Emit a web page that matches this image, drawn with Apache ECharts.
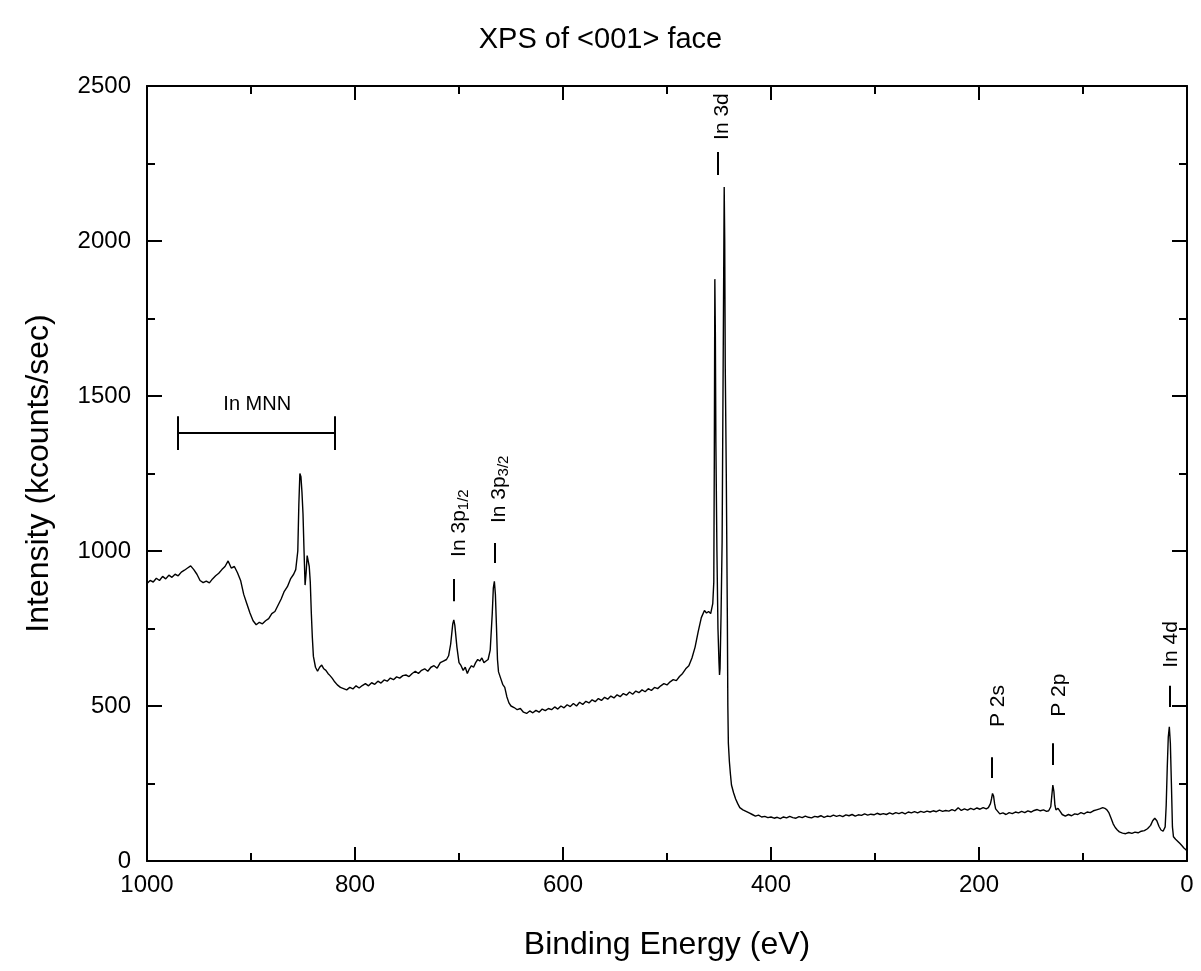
<!DOCTYPE html>
<html>
<head>
<meta charset="utf-8">
<script src="https://cdn.jsdelivr.net/npm/echarts@6/dist/echarts.min.js"></script>
<style>
html,body{margin:0;padding:0;background:#fff;}
#chart{width:1201px;height:971px;}
</style>
</head>
<body>
<div id="chart"></div>
<script>
// ---------- data ----------
const titleText = 'XPS of <001> face';
const xName = 'Binding Energy (eV)';
const yName = 'Intensity (kcounts/sec)';

const energy = [
1000,997,994,991,988,985,982,979,976,973,970,967,964,961,958,955,952,949,946,943,940,937,934,931,928,925,922,919,916,913,910,907,904,901,898,895,892,889,886,883,880,877,874,871,868,865,862,859,857,855,854,853,852,851,850,849,848,847,846,845,844,843,842,841,840,838,836,834,832,830,828,826,824,822,820,817,814,811,808,805,802,799,796,793,790,787,784,781,778,775,772,769,766,763,760,757,754,751,748,745,742,739,736,733,730,727,724,721,718,715,712,710,708,706,705,704,702,700,698,696,694,692,690,688,686,684,682,680,678,676,674,672,670,668,667,666,665,664,663,662,660,658,656,654,652,650,647,644,641,638,635,632,629,626,623,620,617,614,611,608,605,602,599,596,593,590,587,584,581,578,575,572,569,566,563,560,557,554,551,548,545,542,539,536,533,530,527,524,521,518,515,512,509,506,503,500,497,494,491,488,485,482,479,476,473,470,467,464,462,460,458,456,455,454.5,454,453.5,453,452,451,450,449.5,449,448,447,446,445,444.5,444,443,442,441.5,441,440,439,438,436,434,432,430,427,424,421,418,415,412,409,406,403,400,397,394,391,388,385,382,379,376,373,370,367,364,361,358,355,352,349,346,343,340,337,334,331,328,325,322,319,316,313,310,307,304,301,298,295,292,289,286,283,280,277,274,271,268,265,262,259,256,253,250,247,244,241,238,235,232,229,226,223,220,217,214,211,208,205,202,199,196,193,191,189,188,187,186,185,184,182,180,177,174,171,168,165,162,159,156,153,150,147,144,141,138,135,133,131,130,129,128,127,126,124,122,120,117,114,111,108,105,102,99,96,93,90,87,84,81,79,77,75,73,71,69,67,65,62,59,56,53,50,47,44,41,38,35,33,31,29,27,25,23,21,20,19,18,17,16,15,14,13,11,9,7,5,3,1,0
];
const intensity = [
895,905,900,912,905,918,910,922,915,925,920,932,938,945,952,940,925,905,898,903,897,910,920,928,940,950,968,945,950,930,905,860,830,800,775,762,770,765,775,782,798,805,825,845,870,885,910,925,940,1000,1150,1250,1240,1190,1120,1000,890,930,985,990,950,900,800,720,660,625,612,625,632,620,615,605,598,590,580,568,560,556,552,560,555,565,558,566,572,565,575,570,580,574,584,580,590,585,594,590,598,600,595,605,612,605,615,620,612,625,630,622,640,645,650,662,700,765,778,760,690,640,630,615,625,605,620,630,625,640,650,645,655,640,645,650,680,800,880,902,860,760,650,610,590,570,560,530,510,500,495,488,492,480,476,484,478,486,480,490,485,492,488,497,490,500,494,504,498,508,500,512,505,515,510,520,514,524,518,528,522,532,526,536,530,540,535,545,538,548,543,552,546,556,550,560,556,565,572,568,578,585,582,595,605,620,630,655,690,740,785,808,800,805,798,830,900,1300,1877,1700,1350,1000,750,640,600,620,800,1030,1600,2174,2000,1600,1250,800,500,380,320,280,245,220,200,185,172,165,160,155,150,145,148,142,144,140,142,138,141,137,142,139,144,140,138,143,140,145,141,139,144,142,146,141,145,143,148,144,147,143,149,146,150,145,149,147,152,148,151,149,154,150,153,150,155,151,156,153,157,152,158,155,159,155,160,157,161,158,162,159,164,160,163,161,166,162,172,163,168,164,170,166,171,167,172,168,172,185,200,218,210,185,168,160,152,155,150,156,153,158,155,160,156,162,158,163,166,162,165,160,162,175,210,245,225,180,165,170,160,150,145,150,146,152,150,156,152,158,156,162,165,168,172,170,165,155,138,120,108,100,94,90,88,92,89,93,91,96,98,104,115,130,138,130,112,100,96,110,180,300,400,433,380,250,110,78,70,64,57,50,42,36,32
];

// peak labels: [energy, intensity at text foot, text]
const peakLabelEnergy = [700, 661.5, 447, 182, 123, 15.4];
const peakLabelIntensity = [981, 1090, 2326, 432, 465, 623];
const peakLabelText = ['In 3p{s|1/2}', 'In 3p{s|3/2}', 'In 3d', 'P 2s', 'P 2p', 'In 4d'];
// short marker dashes above peaks: energy, from, to
const dashEnergy = [705, 666, 451, 187.5, 129, 17];
const dashFrom = [838, 961, 2213, 268, 310, 497];
const dashTo = [910, 1026, 2287, 335, 380, 565];
// In MNN range bar
const mnnLabel = 'In MNN';
const mnnRange = [970, 819];
const mnnLevel = 1381;
const mnnCap = [1326, 1435];
const mnnLabelPos = [894, 1474];

const xTicks = {min: 0, max: 1000, interval: 200};
const yTicks = {min: 0, max: 2500, interval: 500};

// ---------- chart ----------
const chart = echarts.init(document.getElementById('chart'), null, {renderer: 'canvas'});
const font = "'Liberation Sans', Arial, Helvetica, sans-serif";

const spectrum = energy.map((e, i) => [e, intensity[i]]);
const dashLines = dashEnergy.map((e, i) => [{coord: [e, dashFrom[i]]}, {coord: [e, dashTo[i]]}]);
const mnnLines = [
  [{coord: [mnnRange[0], mnnLevel]}, {coord: [mnnRange[1], mnnLevel]}],
  [{coord: [mnnRange[0], mnnCap[0]]}, {coord: [mnnRange[0], mnnCap[1]]}],
  [{coord: [mnnRange[1], mnnCap[0]]}, {coord: [mnnRange[1], mnnCap[1]]}]
];

const plain = v => String(v);

const axisCommonX = {
  type: 'value', min: xTicks.min, max: xTicks.max, interval: xTicks.interval, inverse: true,
  axisLine: {show: true, onZero: false, lineStyle: {color: '#000', width: 2}},
  axisTick: {show: true, inside: true, length: 14, lineStyle: {color: '#000', width: 2}},
  minorTick: {show: true, splitNumber: 2, length: 8, lineStyle: {color: '#000', width: 2}},
  splitLine: {show: false}
};
const axisCommonY = {
  type: 'value', min: yTicks.min, max: yTicks.max, interval: yTicks.interval,
  axisLine: {show: true, onZero: false, lineStyle: {color: '#000', width: 2}},
  axisTick: {show: true, inside: true, length: 15, lineStyle: {color: '#000', width: 2}},
  minorTick: {show: true, splitNumber: 2, length: 8, lineStyle: {color: '#000', width: 2}},
  splitLine: {show: false}
};

const labelBase = {color: '#000', textBorderWidth: 0, textShadowBlur: 0, opacity: 1};

const option = {
  animation: false,
  backgroundColor: '#fff',
  title: {
    text: titleText, left: 'center', top: 20,
    textStyle: {fontFamily: font, fontSize: 29, fontWeight: 'normal', color: '#000'}
  },
  grid: {left: 147, right: 14, top: 86, bottom: 110, containLabel: false},
  xAxis: [
    Object.assign({}, axisCommonX, {
      position: 'bottom', name: xName, nameLocation: 'middle', nameGap: 68,
      nameTextStyle: {fontFamily: font, fontSize: 32, color: '#000'},
      axisLabel: {show: true, margin: 12, fontFamily: font, fontSize: 24, color: '#000', formatter: plain}
    }),
    Object.assign({}, axisCommonX, {position: 'top', axisLabel: {show: false}})
  ],
  yAxis: [
    Object.assign({}, axisCommonY, {
      position: 'left', name: yName, nameLocation: 'middle', nameGap: 92, nameRotate: 90,
      nameTextStyle: {fontFamily: font, fontSize: 32, color: '#000'},
      axisLabel: {show: true, margin: 16, fontFamily: font, fontSize: 24, color: '#000', formatter: plain}
    }),
    Object.assign({}, axisCommonY, {position: 'right', axisLabel: {show: false}})
  ],
  series: [
    {
      type: 'line', data: spectrum, showSymbol: false, symbol: 'none',
      lineStyle: {color: '#000', width: 1.4}, silent: true,
      markLine: {
        silent: true, symbol: 'none', animation: false,
        label: {show: false},
        lineStyle: {color: '#000', width: 2, type: 'solid'},
        emphasis: {disabled: true},
        data: dashLines.concat(mnnLines)
      }
    },
    {
      type: 'scatter', symbolSize: 0, silent: true,
      itemStyle: {color: '#000'},
      data: peakLabelEnergy.map((e, i) => ({value: [e, peakLabelIntensity[i]], name: peakLabelText[i]})),
      label: Object.assign({}, labelBase, {
        show: true, position: 'inside', rotate: 90, align: 'left', verticalAlign: 'middle',
        formatter: p => p.name,
        fontFamily: font, fontSize: 21,
        rich: {s: {fontFamily: font, fontSize: 15, color: '#000', padding: [10, 0, 0, 0]}}
      })
    },
    {
      type: 'scatter', symbolSize: 0, silent: true,
      itemStyle: {color: '#000'},
      data: [{value: mnnLabelPos, name: mnnLabel}],
      label: Object.assign({}, labelBase, {
        show: true, position: 'inside', align: 'center', verticalAlign: 'middle',
        formatter: p => p.name, fontFamily: font, fontSize: 20
      })
    }
  ]
};
chart.setOption(option);
</script>
</body>
</html>
